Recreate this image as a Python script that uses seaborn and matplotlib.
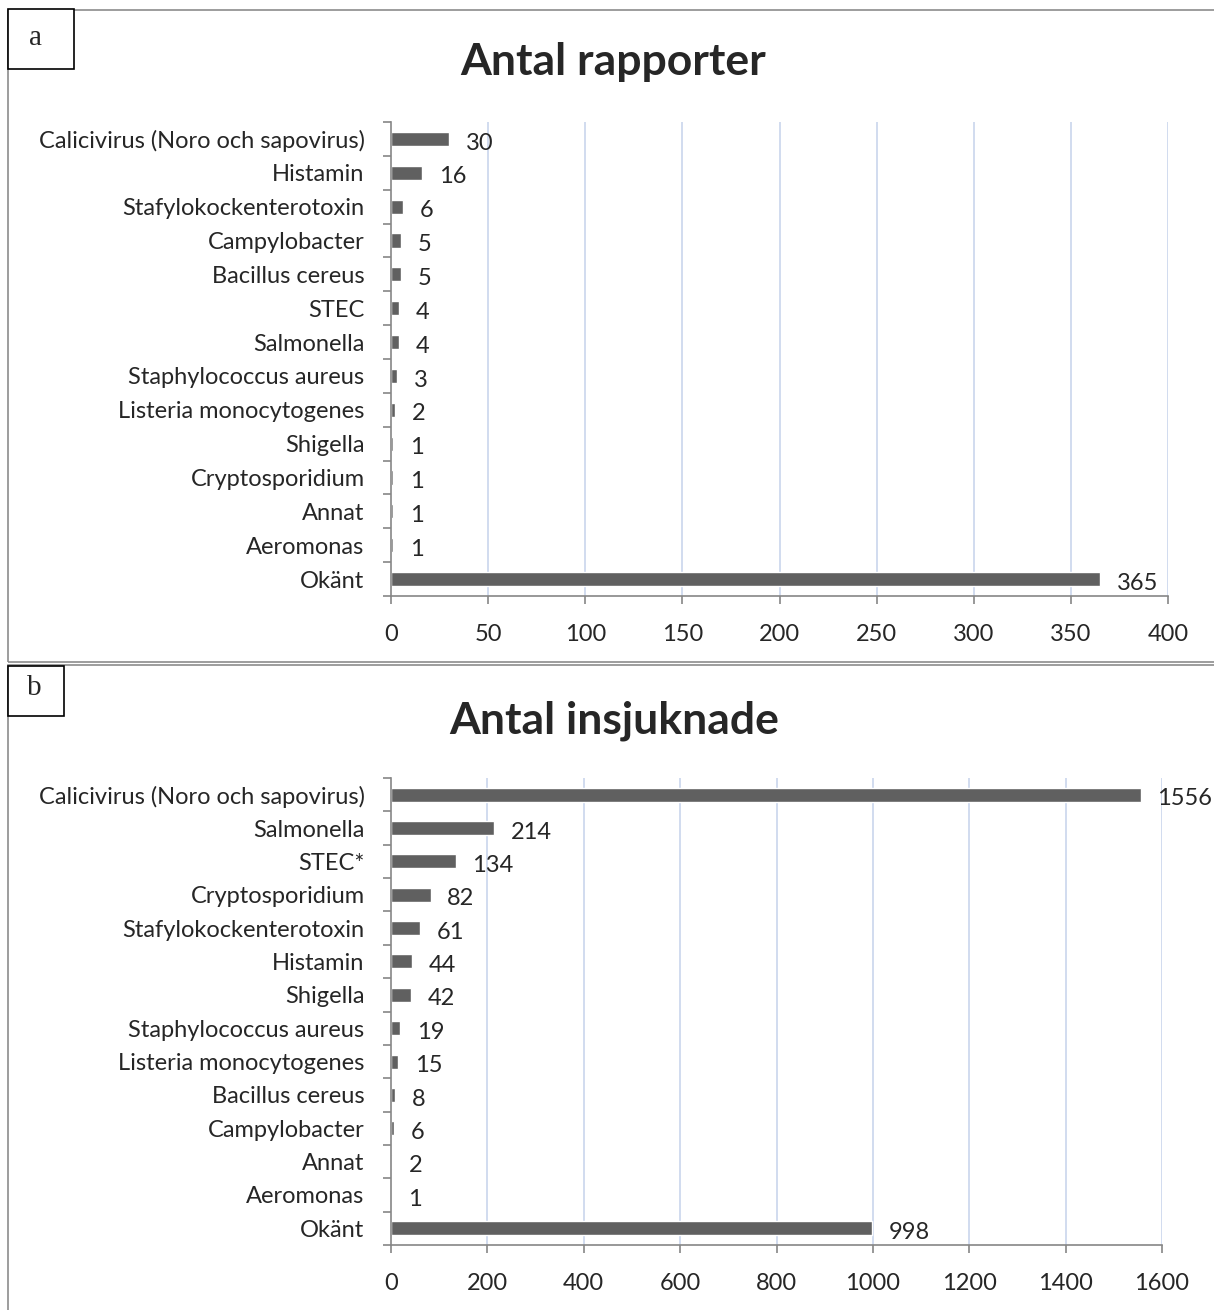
import numpy as np
import seaborn as sns
import matplotlib.pyplot as plt
from matplotlib.patches import Rectangle

# Panel a: number of reports
rapp_labels = ['Calicivirus (Noro och sapovirus)', 'Histamin', 'Stafylokockenterotoxin',
               'Campylobacter', 'Bacillus cereus', 'STEC', 'Salmonella',
               'Staphylococcus aureus', 'Listeria monocytogenes', 'Shigella',
               'Cryptosporidium', 'Annat', 'Aeromonas', 'Okänt']
rapp_values = [30, 16, 6, 5, 5, 4, 4, 3, 2, 1, 1, 1, 1, 365]
rapp_ticks = [0, 50, 100, 150, 200, 250, 300, 350, 400]

# Panel b: number of people ill
insj_labels = ['Calicivirus (Noro och sapovirus)', 'Salmonella', 'STEC*', 'Cryptosporidium',
               'Stafylokockenterotoxin', 'Histamin', 'Shigella', 'Staphylococcus aureus',
               'Listeria monocytogenes', 'Bacillus cereus', 'Campylobacter', 'Annat',
               'Aeromonas', 'Okänt']
insj_values = [1556, 214, 134, 82, 61, 44, 42, 19, 15, 8, 6, 2, 1, 998]
insj_ticks = [0, 200, 400, 600, 800, 1000, 1200, 1400, 1600]

sns.set_style('white')
plt.rcParams['font.family'] = ['Lato', 'DejaVu Sans']

W, H = 1214, 1310
fig = plt.figure(figsize=(W / 100, H / 100), dpi=100)

BAR = '#606060'
AXIS = '#868686'
GRID = '#c9d6ec'
FS = 17


def px_axes(x0, y0, x1, y1):
    return fig.add_axes([x0 / W, 1 - y1 / H, (x1 - x0) / W, (y1 - y0) / H])


def draw_panel(ax, labels, values, ticks):
    sns.barplot(x=values, y=labels, orient='h', color=BAR, saturation=1,
                width=0.42, ax=ax)
    n = len(labels)
    ax.set_xlim(ticks[0], ticks[-1])
    ax.set_xticks(ticks)
    ax.set_xlabel('')
    ax.set_ylabel('')
    for t in ticks[1:]:
        ax.axvline(t, color=GRID, lw=1.2, zorder=0)
    for s in ['top', 'right']:
        ax.spines[s].set_visible(False)
    for s in ['left', 'bottom']:
        ax.spines[s].set_color(AXIS)
        ax.spines[s].set_linewidth(1.2)
    ax.set_yticks(np.arange(-0.5, n, 1), minor=True)
    ax.tick_params(axis='y', which='major', left=True, length=0, pad=19,
                   labelsize=FS)
    ax.tick_params(axis='y', which='minor', left=True, length=6, color=AXIS,
                   width=1.2)
    ax.tick_params(axis='x', which='major', bottom=True, length=6, color=AXIS,
                   width=1.2, pad=14, labelsize=FS)
    anns = ax.bar_label(ax.containers[0], labels=[str(v) for v in values],
                        padding=12, fontsize=FS)
    for a in anns:
        a.xyann = (a.xyann[0], -3)


# Panel frames
fig.patches.append(Rectangle((8 / W, 1 - 662 / H), 1.0, (662 - 10) / H,
                             transform=fig.transFigure, fill=False,
                             edgecolor='#8c8c8c', lw=1.2))
fig.patches.append(Rectangle((8 / W, 1 - 1320 / H), 1.0, (1320 - 665) / H,
                             transform=fig.transFigure, fill=False,
                             edgecolor='#8c8c8c', lw=1.2))
# label boxes
fig.patches.append(Rectangle((8 / W, 1 - 69 / H), 66 / W, 60 / H,
                             transform=fig.transFigure, fill=True, facecolor='white',
                             edgecolor='black', lw=1.2))
fig.patches.append(Rectangle((8 / W, 1 - 716 / H), 56 / W, 50 / H,
                             transform=fig.transFigure, fill=True, facecolor='white',
                             edgecolor='black', lw=1.2))
fig.text(36 / W, 1 - 38 / H, 'a', family='Liberation Serif', fontsize=21,
         ha='center', va='center')
fig.text(34 / W, 1 - 688 / H, 'b', family='Liberation Serif', fontsize=21,
         ha='center', va='center')

fig.text(613 / W, 1 - 62 / H, 'Antal rapporter', fontsize=32, fontweight='bold',
         ha='center', va='center')
fig.text(614 / W, 1 - 721 / H, 'Antal insjuknade', fontsize=32, fontweight='bold',
         ha='center', va='center')

ax1 = px_axes(391, 122, 1168, 596)
draw_panel(ax1, rapp_labels, rapp_values, rapp_ticks)

ax2 = px_axes(391, 778, 1162, 1245)
draw_panel(ax2, insj_labels, insj_values, insj_ticks)

fig.savefig('out.png', dpi=100)
